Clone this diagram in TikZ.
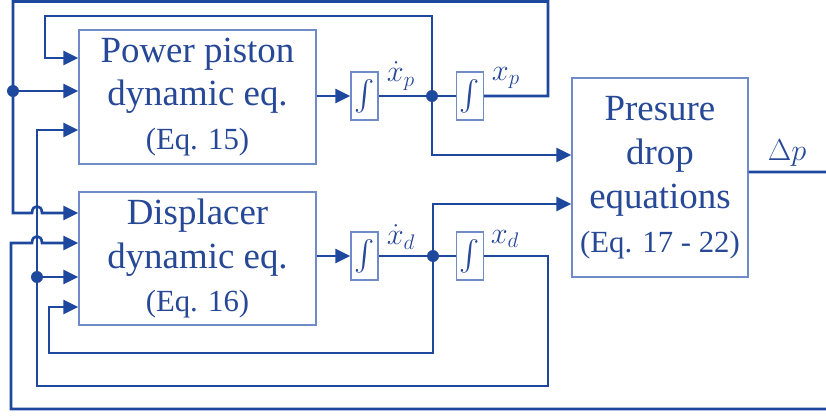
\documentclass[tikz,border=0pt]{standalone}
\usepackage{amsmath}
\usepackage{fontspec}
\setmainfont{Liberation Serif}
\usetikzlibrary{arrows.meta}

\definecolor{wireblue}{RGB}{30,72,158}
\definecolor{textblue}{RGB}{38,72,150}
\definecolor{boxblue}{RGB}{112,140,200}

\tikzset{
  blk/.style={draw=boxblue, line width=0.8pt, text=textblue, align=center,
    inner sep=0pt, font=\fontsize{21}{25}\selectfont},
  intbox/.style={draw=boxblue, line width=0.8pt, text=textblue,
    minimum width=0.54cm, minimum height=0.96cm, inner sep=0pt,
    font=\fontsize{18}{20}\selectfont},
  wire/.style={draw=wireblue, line width=1.5pt},
  feed/.style={wire, -{Triangle[length=0.3cm,width=0.28cm]}},
  lbl/.style={text=textblue, font=\fontsize{18}{20}\selectfont},
  junc/.style={circle, fill=wireblue, minimum size=0.24cm, inner sep=0pt},
}

\begin{document}
\begin{tikzpicture}[x=0.02cm, y=-0.02cm]
\useasboundingbox (0,0) rectangle (826,416);

% blocks
\node[blk, minimum width=4.74cm, minimum height=2.68cm] (pp) at (197.5,97)
  {Power piston\\dynamic eq.\\{\fontsize{17.5}{25}\selectfont (Eq. 15)}};
\node[blk, minimum width=4.74cm, minimum height=2.66cm] (dd) at (197.5,258.5)
  {Displacer\\dynamic eq.\\{\fontsize{17.5}{25}\selectfont (Eq. 16)}};
\node[blk, minimum width=3.52cm, minimum height=3.98cm] (pd) at (660,177.5)
  {Presure\\drop\\equations\\{\fontsize{17.5}{25}\selectfont (Eq. 17 - 22)}};

% integrators
\node[intbox] (ivp) at (364.5,96) {$\int$};
\node[intbox] (ixp) at (470,96) {$\int$};
\node[intbox] (ivd) at (364.5,256) {$\int$};
\node[intbox] (ixd) at (470,256) {$\int$};

% branch points
\node[junc] (jp) at (432,96) {};
\node[junc] (jd) at (433,256) {};
\node[junc] (jl) at (13,91) {};
\node[junc] (jm) at (37,277) {};

% power piston
\draw[feed] (pp.east |- ivp.west) -- (ivp.west);
\draw[wire] (ivp.east) -- (jp.center) -- (ixp.west);
\draw[feed] (ixp.east) -| (548,1.5) -| (13,213) -- (32,213)
  .. controls (32,204) and (42,204) .. (42,213) -- (dd.west |- 0,213);
\draw[feed] (jl.center) -- (pp.west |- jl);
\draw[feed] (jp.center) |- (45,16) |- (pp.west |- 0,58);
\draw[feed] (jp.center) |- (pd.west |- 0,155);

% displacer
\draw[feed] (dd.east |- ivd.west) -- (ivd.west);
\draw[wire] (ivd.east) -- (jd.center) -- (ixd.west);
\draw[feed] (ixd.east) -| (548,386) -| (37,130) -- (pp.west |- 0,130);
\draw[feed] (jm.center) -- (dd.west |- jm);
\draw[feed] (jd.center) |- (pd.west |- 0,204);
\draw[feed] (jd.center) |- (49,353) |- (dd.west |- 0,307);

% pressure drop fed back
\draw[feed] (pd.east |- 0,172) -- (840,172) |- (11,409) -- (11,243) -- (32,243)
  .. controls (32,234) and (42,234) .. (42,243) -- (dd.west |- 0,243);

% signal labels
\node[lbl] (lvp) at (401,76) {$\dot{x}_p$};
\node[lbl] (lxp) at (506,78) {$x_p$};
\node[lbl] (lvd) at (401,237) {$\dot{x}_d$};
\node[lbl] (lxd) at (505,239) {$x_d$};
\node[lbl] (ldp) at (787,153) {$\Delta p$};

\end{tikzpicture}
\end{document}
